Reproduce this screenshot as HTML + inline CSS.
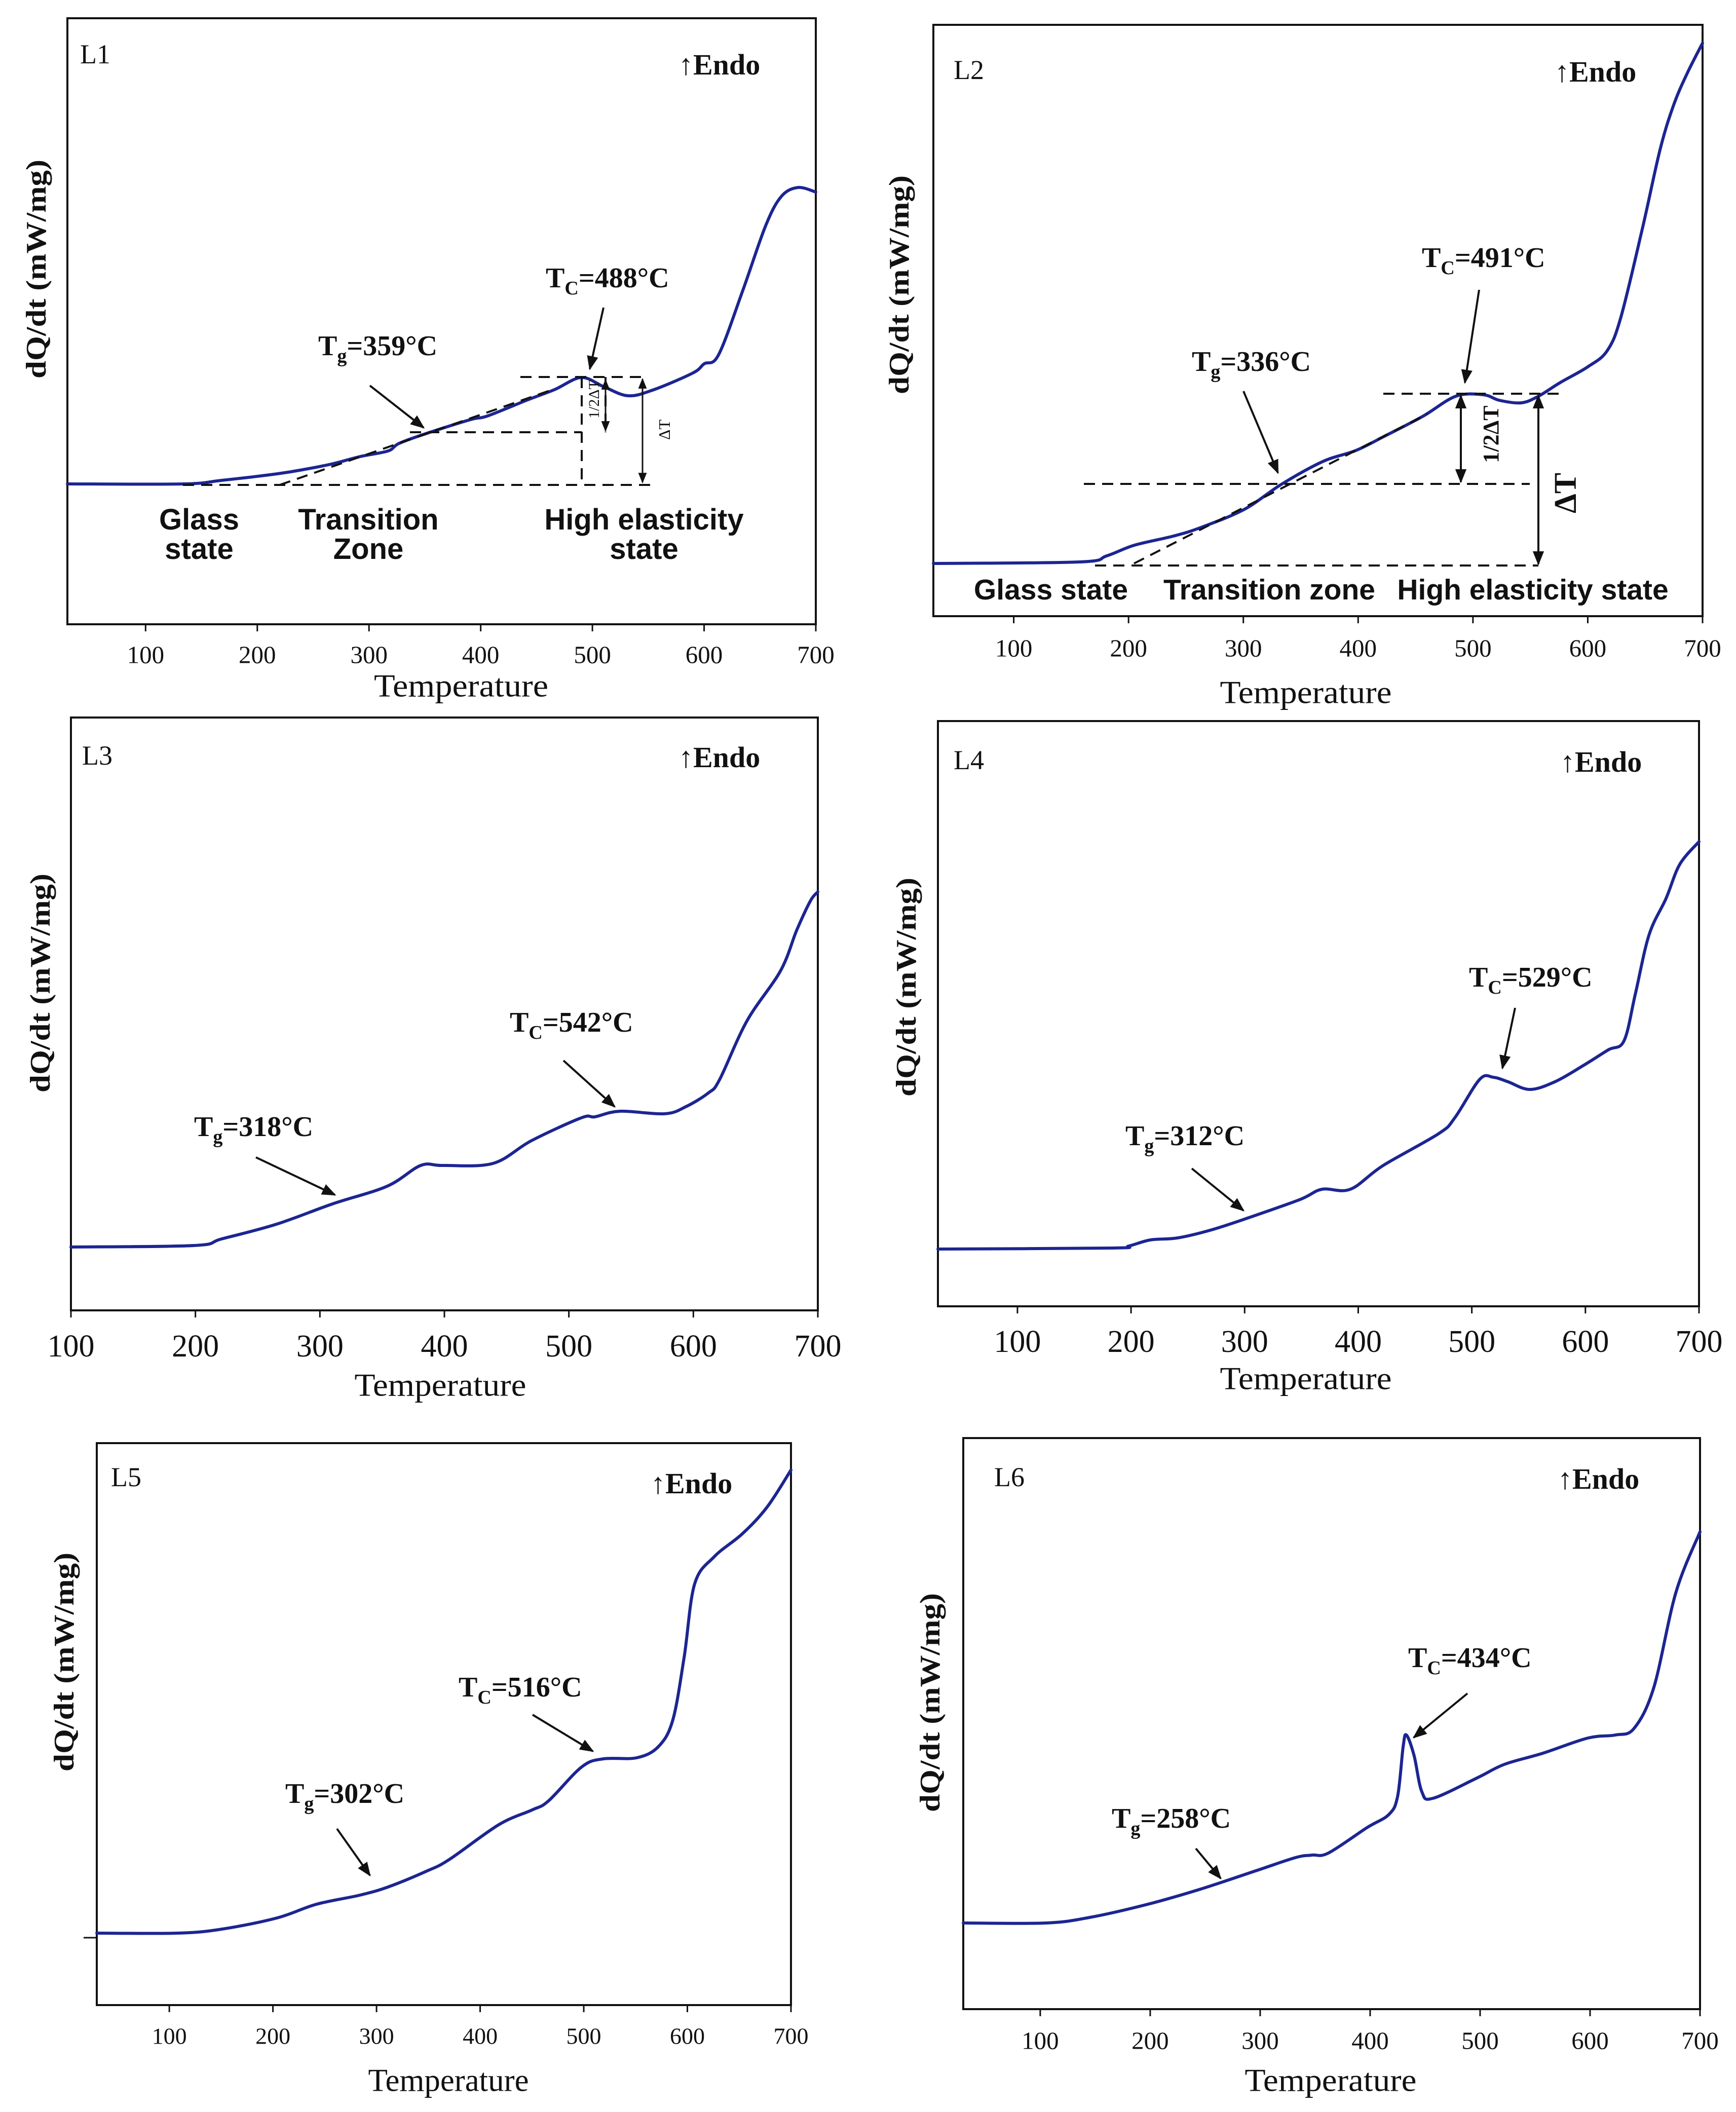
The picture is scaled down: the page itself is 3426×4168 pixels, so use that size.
<!DOCTYPE html>
<html><head><meta charset="utf-8"><title>DSC curves L1–L6</title>
<style>
html,body{margin:0;padding:0;background:#fff;}
svg{display:block;}
text{font-family:"Liberation Serif",serif;fill:#111;}
.sans{font-family:"Liberation Sans",sans-serif;font-weight:bold;}
</style></head>
<body>
<svg id="fig" xmlns="http://www.w3.org/2000/svg" width="3426" height="4168" viewBox="0 0 3426 4168">
<defs>
<marker id="ah" viewBox="0 0 10 10" refX="9" refY="5" markerWidth="7" markerHeight="7" orient="auto-start-reverse"><path d="M0,1 L10,5 L0,9 z" fill="#111"/></marker>
</defs>
<g id="root"></g>
</svg>
<script>
// ---- data (temperature °C, relative heat-flow signal, arbitrary units) ----
const tickLabels = [100, 200, 300, 400, 500, 600, 700];
const l1Temps = [30,134,168,218,243,268,292,317,327,352,391,406,441,466,490,510,532,555,590,600,613,635,655,669,684,700];
const l1Vals  = [0,0,0.07,0.20,0.29,0.40,0.54,0.65,0.80,1.00,1.27,1.34,1.65,1.86,2.10,1.92,1.74,1.86,2.19,2.37,2.55,3.84,5.09,5.67,5.85,5.76];
const l2Temps = [30,157,181,205,239,263,301,333,369,398,422,456,485,509,523,542,557,576,600,617,629,648,663,675,687,700];
const l2Vals  = [0,0.03,0.15,0.36,0.54,0.71,1.07,1.56,2.01,2.23,2.50,2.90,3.30,3.33,3.22,3.17,3.30,3.57,3.88,4.20,4.87,6.65,8.17,9.06,9.69,10.27];
const l3Temps = [100,199,221,265,310,354,381,399,439,470,510,521,541,577,594,612,621,643,670,683,694,700];
const l3Vals  = [0,0.03,0.16,0.45,0.85,1.20,1.61,1.61,1.65,2.10,2.55,2.57,2.68,2.63,2.77,3.04,3.30,4.46,5.45,6.25,6.83,7.01];
const l4Temps = [30,183,198,217,241,271,305,349,368,393,422,471,485,507,519,532,551,573,598,620,634,644,656,671,683,700];
const l4Vals  = [0,0.02,0.06,0.18,0.22,0.38,0.63,0.98,1.18,1.18,1.65,2.28,2.59,3.35,3.39,3.30,3.15,3.30,3.62,3.93,4.11,5.04,6.20,6.92,7.59,8.04];
const l5Temps = [30,108,151,204,242,284,311,348,370,418,450,466,498,519,551,572,586,597,607,626,653,677,700];
const l5Vals  = [0,0,0.08,0.30,0.57,0.75,0.91,1.22,1.45,2.14,2.43,2.61,3.28,3.44,3.46,3.68,4.21,5.46,6.89,7.43,7.88,8.41,9.14];
const l6Temps = [30,105,145,196,246,296,332,347,362,397,417,425,430,433,440,447,457,497,522,557,598,623,640,658,678,700];
const l6Vals  = [0,0,0.11,0.36,0.67,1.03,1.29,1.34,1.38,1.88,2.14,2.50,3.48,3.71,3.30,2.59,2.46,2.86,3.13,3.35,3.65,3.71,3.84,4.65,6.52,7.72];

const NS = "http://www.w3.org/2000/svg";
const root = document.getElementById('root');
function mk(tag, attrs, parent, txt){
  const e = document.createElementNS(NS, tag);
  for (const k in attrs) e.setAttribute(k, attrs[k]);
  if (txt !== undefined) e.textContent = txt;
  (parent || root).appendChild(e);
  return e;
}

const panels = [
 {id:'l1', temps:l1Temps, vals:l1Vals, L:133,T:36,R:1610,B:1232, xmin:30, base:955, tickFs:49, tickY:1292, tempX:910, tempY:1353, tempW:344,
  ylx:72, yly:531, name:'L1', nameX:158, nameY:125, endoX:1339, endoY:147,
  tg:{x:628,y:701,t:'359'}, tc:{x:1077,y:567,t:'488'}, tgA:[730,761,836,844], tcA:[1191,607,1164,728]},
 {id:'l2', temps:l2Temps, vals:l2Vals, L:1842,T:49,R:3360,B:1216, xmin:30, base:1112, tickFs:49, tickY:1279, tempX:2577, tempY:1366, tempW:339,
  ylx:1775, yly:562, name:'L2', nameX:1882, nameY:156, endoX:3068, endoY:161,
  tg:{x:2352,y:732,t:'336'}, tc:{x:2806,y:527,t:'491'}, tgA:[2454,772,2522,933], tcA:[2919,572,2891,755]},
 {id:'l3', temps:l3Temps, vals:l3Vals, L:140,T:1416,R:1614,B:2586, xmin:100, base:2461, tickFs:62, tickY:2657, tempX:869, tempY:2733, tempW:339,
  ylx:80, yly:1940, name:'L3', nameX:162, nameY:1509, endoX:1339, endoY:1514,
  tg:{x:383,y:2242,t:'318'}, tc:{x:1006,y:2036,t:'542'}, tgA:[505,2284,661,2358], tcA:[1112,2093,1213,2184]},
 {id:'l4', temps:l4Temps, vals:l4Vals, L:1851,T:1423,R:3353,B:2578, xmin:30, base:2465, tickFs:62, tickY:2648, tempX:2577, tempY:2720, tempW:339,
  ylx:1789, yly:1948, name:'L4', nameX:1882, nameY:1518, endoX:3079, endoY:1523,
  tg:{x:2221,y:2260,t:'312'}, tc:{x:2899,y:1947,t:'529'}, tgA:[2352,2306,2454,2389], tcA:[2990,1989,2965,2108]},
 {id:'l5', temps:l5Temps, vals:l5Vals, L:191,T:2848,R:1561,B:3957, xmin:30, base:3815, tickFs:46, tickY:4018, tempX:885, tempY:4105, tempW:317,
  ylx:127, yly:3280, name:'L5', nameX:219, nameY:2933, endoX:1284, endoY:2947,
  tg:{x:563,y:3558,t:'302'}, tc:{x:905,y:3348,t:'516'}, tgA:[665,3609,730,3701], tcA:[1051,3384,1170,3456], ytick:3824},
 {id:'l6', temps:l6Temps, vals:l6Vals, L:1901,T:2838,R:3355,B:3965, xmin:30, base:3795, tickFs:49, tickY:4027, tempX:2626, tempY:4105, tempW:339,
  ylx:1836, yly:3360, name:'L6', nameX:1962, nameY:2933, endoX:3074, endoY:2938,
  tg:{x:2194,y:3607,t:'258'}, tc:{x:2779,y:3290,t:'434'}, tgA:[2360,3648,2409,3707], tcA:[2896,3342,2790,3429]}
];

function smoothPath(pts){
  let d = 'M' + pts[0][0].toFixed(1) + ',' + pts[0][1].toFixed(1);
  for (let i = 0; i < pts.length - 1; i++){
    const p0 = pts[i-1] || pts[i], p1 = pts[i], p2 = pts[i+1], p3 = pts[i+2] || p2;
    const c1x = p1[0] + (p2[0]-p0[0])/6, c1y = p1[1] + (p2[1]-p0[1])/6;
    const c2x = p2[0] - (p3[0]-p1[0])/6, c2y = p2[1] - (p3[1]-p1[1])/6;
    d += ' C' + c1x.toFixed(1) + ',' + c1y.toFixed(1) + ' ' + c2x.toFixed(1) + ',' + c2y.toFixed(1) + ' ' + p2[0].toFixed(1) + ',' + p2[1].toFixed(1);
  }
  return d;
}

panels.forEach(p => {
  const g = mk('g', {});
  
  
  const xs = T => p.L + (T - p.xmin) / (700 - p.xmin) * (p.R - p.L);
  const ys = v => p.base - v * 100;

  const frame = mk('rect', {x:p.L, y:p.T, width:p.R-p.L, height:p.B-p.T, fill:'none', stroke:'#111', 'stroke-width':4}, g);
  
  

  tickLabels.forEach(t => {
    if (t < p.xmin) return;
    const x = xs(t);
    const tk = mk('line', {x1:x, y1:p.B, x2:x, y2:p.B+14, stroke:'#111', 'stroke-width':3}, g);
    
    
    const tl = mk('text', {x:x, y:p.tickY, 'font-size':p.tickFs, 'text-anchor':'middle', 'dominant-baseline':'central'}, g, String(t));
    
    
  });
  if (p.ytick){
    const yt = mk('line', {x1:p.L-26, y1:p.ytick, x2:p.L, y2:p.ytick, stroke:'#111', 'stroke-width':3}, g);
    
    
  }

  const xt = mk('text', {x:p.tempX, y:p.tempY, 'font-size':64, 'text-anchor':'middle', 'dominant-baseline':'central', textLength:p.tempW, lengthAdjust:'spacingAndGlyphs'}, g, 'Temperature');
  
  

  const yt = mk('text', {x:0, y:0, 'font-size':56, 'font-weight':'bold', 'text-anchor':'middle', 'dominant-baseline':'central', textLength:432, lengthAdjust:'spacingAndGlyphs', transform:'translate(' + p.ylx + ',' + p.yly + ') rotate(-90)'}, g, 'dQ/dt (mW/mg)');
  
  

  const nm = mk('text', {x:p.nameX, y:p.nameY, 'font-size':54}, g, p.name);
  
  
  const en = mk('text', {x:p.endoX, y:p.endoY, 'font-size':58, 'font-weight':'bold'}, g, '↑Endo');
  
  

  const pts = p.temps.map((t, i) => [xs(t), ys(p.vals[i])]);
  const curve = mk('path', {d:smoothPath(pts), fill:'none', stroke:'#1c2591', 'stroke-width':6, 'stroke-linejoin':'round', 'stroke-linecap':'round'}, g);
  
  

  const tg = mk('text', {x:p.tg.x, y:p.tg.y, 'font-size':56, 'font-weight':'bold'}, g);
  
  
  mk('tspan', {}, tg, 'T');
  mk('tspan', {dy:14, 'font-size':38}, tg, 'g');
  mk('tspan', {dy:-14}, tg, '=' + p.tg.t + '°C');
  const tc = mk('text', {x:p.tc.x, y:p.tc.y, 'font-size':56, 'font-weight':'bold'}, g);
  
  
  mk('tspan', {}, tc, 'T');
  mk('tspan', {dy:14, 'font-size':38}, tc, 'C');
  mk('tspan', {dy:-14}, tc, '=' + p.tc.t + '°C');

  [['tg-arrow', p.tgA], ['tc-arrow', p.tcA]].forEach(a => {
    const ar = mk('line', {x1:a[1][0], y1:a[1][1], x2:a[1][2], y2:a[1][3], stroke:'#111', 'stroke-width':4, 'marker-end':'url(#ah)'}, g);
    
    
  });
});

// construction lines for L1 and L2
function dash(x1,y1,x2,y2){
  const l = mk('line', {x1:x1,y1:y1,x2:x2,y2:y2, stroke:'#111','stroke-width':4,'stroke-dasharray':'22,14'});
  
  
}
function dbl(x,y1,y2,w){
  const l = mk('line', {x1:x,y1:y1,x2:x,y2:y2, stroke:'#111','stroke-width':w||3,'marker-start':'url(#ah)','marker-end':'url(#ah)'});
  
  
}
function lab(txt,x,y,fs,cls,rot,name,bold){
  const attrs = {x:x,y:y,'font-size':fs,'text-anchor':'middle'};
  if (cls) attrs['class'] = cls;
  if (bold) attrs['font-weight'] = 'bold';
  if (rot) attrs.transform = 'rotate(-90 ' + x + ' ' + y + ')';
  const t = mk('text', attrs, root, txt);
  
  
}
// L1
dash(361,957,1295,957); dash(809,853,1148,853); dash(1027,744,1279,744);
dash(1148,744,1148,955); dash(1195,744,1195,853); dash(552,957,1093,768);
dbl(1268,748,952,3); dbl(1195,750,850,3);
lab('ΔT',1322,848,32,null,true,'delta-t-label');
lab('1/2ΔT',1182,788,30,null,true,'half-delta-t-label');
lab('Glass',393,1045,58,'sans',false,'state-label'); lab('state',393,1103,58,'sans',false,'state-label');
lab('Transition',727,1045,58,'sans',false,'state-label'); lab('Zone',727,1103,58,'sans',false,'state-label');
lab('High elasticity',1271,1045,58,'sans',false,'state-label'); lab('state',1271,1103,58,'sans',false,'state-label');
// L2
dash(2139,955,3019,955); dash(2730,777,3079,777); dash(2161,1116,3036,1116); dash(2238,1112,2817,817);
dbl(2883,781,951,4); dbl(3036,781,1113,4);
lab('1/2ΔT',2957,857,44,null,true,'half-delta-t-label',true);
lab('ΔT',3110,973,62,null,true,'delta-t-label',true);
lab('Glass state',2074,1183,57,'sans',false,'state-label');
lab('Transition zone',2505,1183,57,'sans',false,'state-label');
lab('High elasticity state',3025,1183,57,'sans',false,'state-label');
</script>
</body></html>
